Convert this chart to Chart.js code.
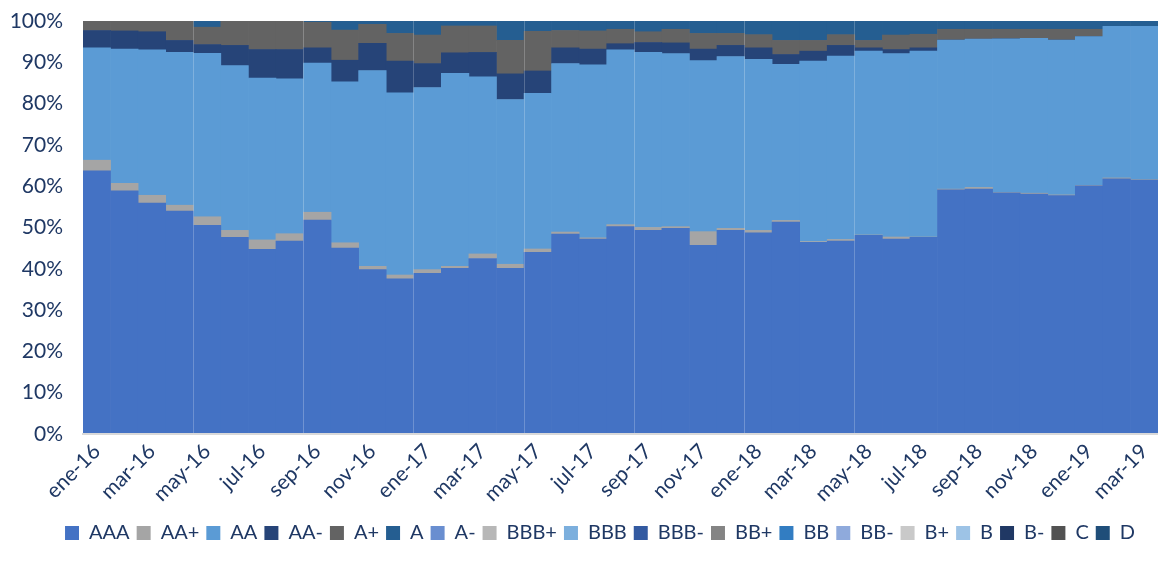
<!DOCTYPE html>
<html>
<head>
<meta charset="utf-8">
<script src="https://cdn.jsdelivr.net/npm/chart.js@4.4.1/dist/chart.umd.min.js"></script>
<style>
html,body{margin:0;padding:0;background:#ffffff;}
#wrap{width:1158px;height:571px;position:relative;}
</style>
</head>
<body>
<div id="wrap"><canvas id="c"></canvas></div>
<script>
const categories = ['ene-16','feb-16','mar-16','abr-16','may-16','jun-16','jul-16','ago-16','sep-16','oct-16','nov-16','dic-16',
  'ene-17','feb-17','mar-17','abr-17','may-17','jun-17','jul-17','ago-17','sep-17','oct-17','nov-17','dic-17',
  'ene-18','feb-18','mar-18','abr-18','may-18','jun-18','jul-18','ago-18','sep-18','oct-18','nov-18','dic-18',
  'ene-19','feb-19','mar-19'];

const yTicks = [0,10,20,30,40,50,60,70,80,90,100];

const AAA   = [63.7,58.9,55.9,54.0,50.5,47.6,44.7,46.7,51.8,45.0,39.8,37.6,38.9,40.1,42.5,40.1,44.0,48.4,47.2,50.2,49.3,49.8,45.7,49.3,48.7,51.3,46.4,46.7,48.1,47.2,47.6,59.1,59.3,58.4,58.1,57.7,60.1,61.8,61.5];
const AAp   = [2.6,1.8,1.9,1.4,2.1,1.7,2.3,1.8,1.9,1.3,0.8,0.9,0.9,0.5,1.1,1.0,0.8,0.5,0.3,0.5,0.7,0.4,3.3,0.5,0.6,0.4,0.2,0.4,0.1,0.5,0.1,0.2,0.4,0.1,0.2,0.2,0.1,0.2,0.1];
const AA    = [27.2,32.5,35.2,37.0,39.6,39.9,39.2,37.5,36.1,39.0,47.4,44.1,44.1,46.7,42.9,39.9,37.7,40.8,41.9,42.3,42.4,41.9,41.4,41.6,41.4,37.8,43.7,44.4,44.5,44.4,45.0,36.1,35.9,37.2,37.5,37.5,36.0,36.7,37.1];
const AAm   = [4.2,4.4,4.4,2.9,2.1,4.9,6.9,7.1,3.7,5.2,6.6,7.7,5.8,5.0,5.9,6.2,5.4,3.8,3.8,1.5,2.4,2.6,2.8,2.7,2.8,2.4,2.4,2.6,0.8,1.0,0.8,0,0,0,0,0,0,0,0];
const Ap    = [2.3,2.4,2.6,4.7,4.2,5.9,6.9,6.9,6.2,7.3,4.6,6.7,6.9,6.5,6.4,8.1,9.6,4.2,4.4,3.5,2.6,3.3,3.8,2.9,3.2,3.4,2.6,2.6,1.8,3.5,3.3,2.6,2.4,2.3,2.2,2.6,1.8,0,0];
const A_    = [0,0,0,0,1.5,0,0,0,0.3,2.2,0.8,3.0,3.4,1.2,1.2,4.7,2.5,2.3,2.4,2.0,2.6,2.0,3.0,3.0,3.3,4.7,4.7,3.3,4.7,3.4,3.2,2.0,2.0,2.0,2.0,2.0,2.0,1.3,1.3];

const seriesNames  = ['AAA','AA+','AA','AA-','A+','A','A-','BBB+','BBB','BBB-','BB+','BB','BB-','B+','B','B-','C','D'];
const seriesColors = ['#4472C4','#A5A5A5','#5B9BD5','#264478','#636363','#255E91','#698ED0','#B7B7B7','#7CAFDD','#335AA1','#848484','#327DC2','#8FAADC','#C9C9C9','#9DC3E6','#203864','#525252','#1F4E79'];
const seriesData   = [AAA, AAp, AA, AAm, Ap, A_, [], [], [], [], [], [], [], [], [], [], [], []];

const navy = '#1F3864';
const fontFamily = 'Lato, "Open Sans", sans-serif';

const datasets = seriesNames.map((name, i) => ({
  label: name,
  data: seriesData[i],
  backgroundColor: seriesColors[i],
  borderWidth: 0,
  barPercentage: 1,
  categoryPercentage: 1
}));

// shift the bottom legend so it is centred like the original (whose canvas was wider on the right)
const legendShift = {
  id: 'legendShift',
  afterLayout(chart) {
    if (chart.legend) { chart.legend.left += 21; chart.legend.right += 21; }
  }
};

new Chart(document.getElementById('c'), {
  type: 'bar',
  data: { labels: categories, datasets: datasets },
  plugins: [legendShift],
  options: {
    responsive: true,
    maintainAspectRatio: false,
    animation: false,
    layout: { padding: { top: 21, left: 0, right: 0, bottom: 18 } },
    plugins: {
      tooltip: { enabled: false },
      legend: {
        position: 'bottom',
        labels: {
          color: navy,
          font: { family: fontFamily, size: 20 },
          boxWidth: 14,
          boxHeight: 14,
          padding: 7
        }
      }
    },
    scales: {
      x: {
        stacked: true,
        offset: true,
        grid: {
          display: true,
          offset: true,
          z: 1,
          drawTicks: false,
          lineWidth: 1,
          color: (ctx) => (ctx.index > 0 && ctx.index <= 28 && ctx.index % 4 === 0) ? 'rgba(255,255,255,0.22)' : 'rgba(0,0,0,0)'
        },
        border: { display: true, color: '#D9D9D9', width: 2, z: 2 },
        ticks: {
          autoSkip: false,
          minRotation: 45,
          maxRotation: 45,
          padding: 5,
          color: navy,
          font: { family: fontFamily, size: 21 },
          callback: function(value, index) { return index % 2 === 0 ? this.getLabelForValue(value) : ''; }
        },
        afterFit: (scale) => { scale.height = 82; scale.paddingLeft = 0; scale.paddingRight = 0; }
      },
      y: {
        stacked: true,
        min: 0,
        max: 100,
        afterBuildTicks: (scale) => { scale.ticks = yTicks.map(v => ({ value: v })); },
        grid: { display: false, drawTicks: false },
        border: { display: false },
        ticks: {
          padding: 20,
          color: navy,
          font: { family: fontFamily, size: 21 },
          callback: (v) => v + '%'
        },
        afterFit: (scale) => { scale.width = 83; scale.paddingTop = 0; scale.paddingBottom = 0; }
      }
    }
  }
});
</script>
</body>
</html>
